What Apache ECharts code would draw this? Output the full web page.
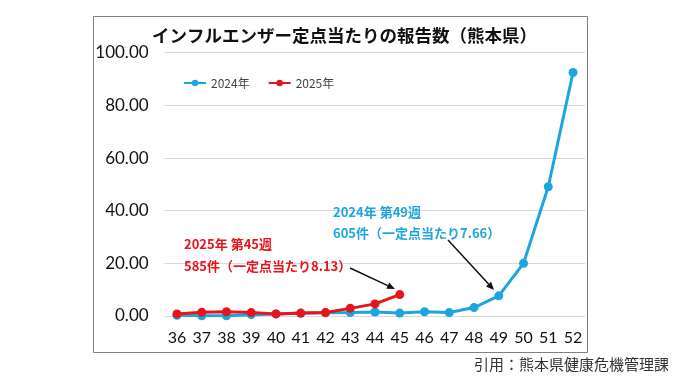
<!DOCTYPE html>
<html><head><meta charset="utf-8">
<script src="https://cdn.jsdelivr.net/npm/echarts@6/dist/echarts.min.js"></script>
<style>html,body{margin:0;padding:0;background:#fff}#c{width:680px;height:382px}</style>
</head><body><div id="c"></div>
<script>
const weeks = ['36','37','38','39','40','41','42','43','44','45','46','47','48','49','50','51','52'];
const series2024 = [0.3, 0.1, 0.1, 0.5, 0.8, 1.0, 1.2, 1.3, 1.5, 1.1, 1.6, 1.3, 3.2, 7.66, 20.0, 49.1, 92.5];
const series2025 = [0.8, 1.4, 1.6, 1.3, 0.8, 1.1, 1.3, 2.9, 4.6, 8.13];
const yTicks = [0, 20, 40, 60, 80, 100];
const titleText = 'インフルエンザー定点当たりの報告数（熊本県）';
const note2025 = ['2025年 第45週', '585件（一定点当たり8.13）'];
const note2024 = ['2024年 第49週', '605件（一定点当たり7.66）'];
const caption = '引用：熊本県健康危機管理課';

const BLUE = '#1BA6DE', RED = '#E8141C';
const numFont = 'Lato, "Noto Sans", sans-serif';
const jpFont = '"Noto Sans CJK JP", sans-serif';

function arrow(x1, y1, x2, y2) {
  const a = Math.atan2(y2 - y1, x2 - x1), L = 8, W = 3.5;
  const bx = x2 - L * Math.cos(a), by = y2 - L * Math.sin(a);
  const px = -Math.sin(a) * W, py = Math.cos(a) * W;
  return [
    {type: 'line', shape: {x1: x1, y1: y1, x2: bx, y2: by}, style: {stroke: '#111', lineWidth: 1.5}, z: 20},
    {type: 'polygon', shape: {points: [[x2, y2], [bx + px, by + py], [bx - px, by - py]]}, style: {fill: '#111'}, z: 20}
  ];
}

const chart = echarts.init(document.getElementById('c'), null, {renderer: 'canvas'});
chart.setOption({
  animation: false,
  backgroundColor: '#fff',
  title: {
    text: titleText, left: 147, top: 22,
    textStyle: {fontFamily: jpFont, fontSize: 17.5, fontWeight: 'bold', color: '#111'}
  },
  legend: {
    left: 178, top: 72, itemWidth: 22, itemHeight: 8, itemGap: 18,
    textStyle: {fontFamily: jpFont, fontSize: 12, color: '#444'},
    data: ['2024年', '2025年']
  },
  grid: {left: 164.6, right: 94.6, top: 52.7, bottom: 66},
  xAxis: {
    type: 'category', data: weeks, boundaryGap: true,
    axisLine: {show: false}, axisTick: {show: false},
    axisLabel: {fontFamily: numFont, fontSize: 16, color: '#111', margin: 14}
  },
  yAxis: {
    type: 'value', min: yTicks[0], max: yTicks[yTicks.length - 1], interval: 20,
    axisLine: {show: false}, axisTick: {show: false},
    splitLine: {lineStyle: {color: '#d9d9d9', width: 1}},
    axisLabel: {fontFamily: numFont, fontSize: 17, color: '#111', margin: 16,
      formatter: v => v.toFixed(2)}
  },
  series: [
    {name: '2024年', type: 'line', data: series2024, color: BLUE,
     symbol: 'circle', symbolSize: 9, lineStyle: {width: 3}, z: 3},
    {name: '2025年', type: 'line', data: series2025, color: RED,
     symbol: 'circle', symbolSize: 9, lineStyle: {width: 3}, z: 4}
  ],
  graphic: [
    {type: 'rect', shape: {x: 93.5, y: 16.5, width: 494, height: 336}, style: {fill: null, stroke: '#808080', lineWidth: 1}, z: 0},
    {type: 'text', left: 184, top: 233, style: {text: note2025[0] + '\n' + note2025[1], fill: RED, font: 'bold 13px ' + jpFont, lineHeight: 22}, z: 20},
    {type: 'text', left: 333, top: 202, style: {text: note2024[0] + '\n' + note2024[1], fill: BLUE, font: 'bold 13px ' + jpFont, lineHeight: 21}, z: 20},
    ...arrow(350, 268, 395, 289),
    ...arrow(448, 240, 494, 290),
    {type: 'text', left: 474, top: 357, style: {text: caption, fill: '#333', font: '15px ' + jpFont}, z: 20}
  ]
});
</script></body></html>
